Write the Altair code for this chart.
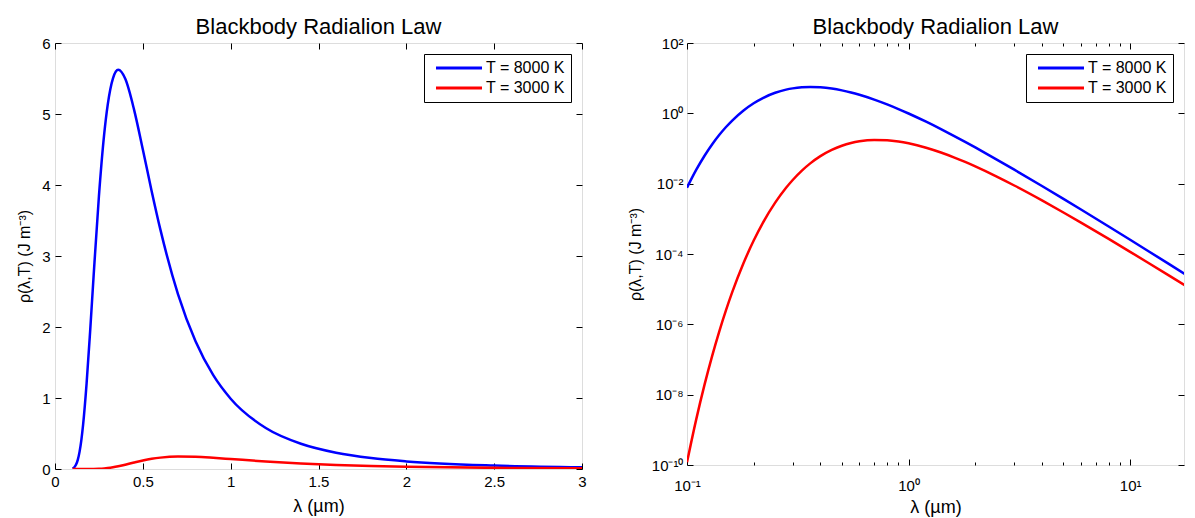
import json
import altair as alt
import pandas as pd

# ---------------- data ----------------
lam = [0.1, 0.11, 0.12, 0.13, 0.14, 0.15, 0.16, 0.18, 0.2, 0.22, 0.25, 0.28,
       0.3, 0.33, 0.36, 0.4, 0.45, 0.5, 0.55, 0.6, 0.7, 0.8, 0.9, 1.0, 1.2,
       1.4, 1.6, 1.8, 2.0, 2.5, 3.0, 4, 5, 6, 8, 10, 12, 15, 20]

rho_8000 = [7.71e-3, 0.02457, 0.06211, 0.1318, 0.2446, 0.4078, 0.6248, 1.209,
            1.939, 2.727, 3.841, 4.715, 5.128, 5.502, 5.622, 5.495, 5.062,
            4.500, 3.917, 3.371, 2.463, 1.798, 1.325, 0.9900, 0.5769, 0.3550,
            0.2291, 0.1539, 0.1070, 0.04852, 0.02501, 8.583e-3, 3.689e-3,
            1.836e-3, 6.041e-4, 2.533e-4, 1.240e-4, 5.158e-5, 1.657e-5]

rho_3000 = [1.193e-10, 1.949e-9, 1.924e-8, 1.294e-7, 6.443e-7, 2.531e-6,
            8.205e-6, 5.538e-5, 2.411e-4, 7.679e-4, 2.882e-3, 7.643e-3,
            0.01274, 0.02354, 0.03778, 0.06067, 0.09135, 0.1200, 0.1434,
            0.1603, 0.1752, 0.1717, 0.1582, 0.1406, 0.1054, 0.07695, 0.05619,
            0.04141, 0.03094, 0.01589, 8.864e-3, 3.343e-3, 1.516e-3,
            7.815e-4, 2.682e-4, 1.153e-4, 5.738e-5, 2.425e-5, 7.914e-6]

series_names = ["T = 8000 K", "T = 3000 K"]
series_colors = ["#0000ff", "#ff0000"]

title_text = "Blackbody Radialion Law"
x_label = "λ (µm)"
y_label = "ρ(λ,T) (J m⁻³)"

lin_xticks = [0, 0.5, 1, 1.5, 2, 2.5, 3]
lin_yticks = [0, 1, 2, 3, 4, 5, 6]
log_xticks = [0.1, 1, 10]
log_xtick_exps = [-1, 0, 1]
log_xtick_labels = ["10⁻¹", "10⁰", "10¹"]
log_xminor = [0.2, 0.3, 0.4, 0.5, 0.6, 0.7, 0.8, 0.9,
              2, 3, 4, 5, 6, 7, 8, 9]
log_yticks = [1e-10, 1e-8, 1e-6, 1e-4, 1e-2, 1, 100]
log_ytick_exps = [-10, -8, -6, -4, -2, 0, 2]
log_ytick_labels = ["10⁻¹⁰", "10⁻⁸", "10⁻⁶", "10⁻⁴", "10⁻²", "10⁰", "10²"]

rows = []
for name, vals in zip(series_names, [rho_8000, rho_3000]):
    for l, r in zip(lam, vals):
        rows.append({"lam": l, "rho": r, "series": name})
df = pd.DataFrame(rows)

FONT = "Liberation Sans"
MAJOR = 6
MINOR = 3


def exp_label_expr(exps, labels):
    return (json.dumps(labels, ensure_ascii=False) + "[indexof(" +
            json.dumps(exps) + ", round(log(datum.value) / LN10))]")


def tick_axis(orient, values, size, labels=False, title=None, label_expr=None,
              title_pad=0, fmt=None, label_pad=5, title_size=17):
    kw = dict(orient=orient, values=values, offset=-size, tickSize=size,
              tickColor="black", tickWidth=1, domain=False, grid=False,
              labels=labels, labelFont=FONT, labelFontSize=15,
              labelColor="black", labelOverlap=False, labelFlush=False,
              minExtent=0)
    if labels:
        kw["labelPadding"] = label_pad
    if label_expr is not None:
        kw["labelExpr"] = label_expr
    if fmt is not None:
        kw["format"] = fmt
    if title is not None:
        kw.update(title=title, titleFont=FONT, titleFontSize=title_size,
                  titleFontWeight="normal", titleColor="black",
                  titlePadding=title_pad)
    else:
        kw["title"] = None
    return alt.Axis(**kw)


def panel(width, height, xscale, yscale, x_major, y_major, x_lab_expr=None,
          y_lab_expr=None, x_minor=None, xtitle_pad=8, ytitle_pad=9,
          xlab_pad=5, ylab_pad=5, data_max=None, xfmt=None):
    base = alt.Chart(df)
    if data_max is not None:
        base = base.transform_filter(alt.datum.lam <= data_max)
    lines = base.mark_line(strokeWidth=2.5, interpolate="monotone",
                           clip=True).encode(
        x=alt.X("lam:Q", scale=xscale,
                axis=tick_axis("bottom", x_major, MAJOR, True, x_label,
                               x_lab_expr, xtitle_pad, xfmt, xlab_pad, 18)),
        y=alt.Y("rho:Q", scale=yscale,
                axis=tick_axis("left", y_major, MAJOR, True, y_label,
                               y_lab_expr, ytitle_pad, None, ylab_pad, 16)),
        color=alt.Color("series:N",
                        scale=alt.Scale(domain=series_names,
                                        range=series_colors),
                        sort=series_names,
                        legend=alt.Legend(
                            title=None, orient="top-right", offset=11,
                            strokeColor="black", fillColor="white",
                            padding=6, symbolType="M-0.333,0H7.333",
                            symbolSize=144, symbolStrokeWidth=3,
                            labelFont=FONT, labelFontSize=16,
                            labelColor="black", labelOffset=40,
                            rowPadding=4)),
    )
    ghost = base.mark_line(strokeOpacity=0, clip=True).encode(
        x=alt.X("lam:Q", scale=xscale,
                axis=tick_axis("top", x_major, MAJOR)),
        y=alt.Y("rho:Q", scale=yscale,
                axis=tick_axis("right", y_major, MAJOR)),
        detail="series:N",
    )
    layers = [lines, ghost]
    if x_minor is not None:
        for orient in ["bottom", "top"]:
            layers.append(base.mark_line(strokeOpacity=0, clip=True).encode(
                x=alt.X("lam:Q", scale=xscale,
                        axis=tick_axis(orient, x_minor, MINOR)),
                y=alt.Y("rho:Q", scale=yscale, axis=None),
                detail="series:N",
            ))
    return alt.layer(*layers).resolve_axis(
        x="independent", y="independent"
    ).properties(
        width=width, height=height,
        title=alt.TitleParams(title_text, font=FONT, fontSize=22,
                              fontWeight="normal", color="black",
                              baseline="alphabetic", offset=-20),
    )


left = panel(527, 426,
             alt.Scale(type="linear", domain=[0, 3], nice=False, zero=False),
             alt.Scale(type="linear", domain=[0, 6], nice=False),
             lin_xticks, lin_yticks, data_max=3, xtitle_pad=8, ytitle_pad=9,
             xlab_pad=5, ylab_pad=5, xfmt="~g")

right = panel(497, 422,
              alt.Scale(type="log", domain=[0.1, 17.5], nice=False),
              alt.Scale(type="log", domain=[1e-10, 100], nice=False),
              log_xticks, log_yticks,
              x_lab_expr=exp_label_expr(log_xtick_exps, log_xtick_labels),
              y_lab_expr=exp_label_expr(log_ytick_exps, log_ytick_labels),
              x_minor=log_xminor, xtitle_pad=5, ytitle_pad=8,
              xlab_pad=13, ylab_pad=4)

chart = alt.hconcat(left, right, spacing=39).resolve_scale(
    color="independent"
).resolve_legend(
    color="independent"
).configure_view(
    stroke="black", strokeWidth=1
).configure(
    background="white"
).properties(
    padding={"left": 8, "top": 7, "right": 0, "bottom": 0}
)

chart.save("out.html", embed_options={"renderer": "svg", "actions": False})
